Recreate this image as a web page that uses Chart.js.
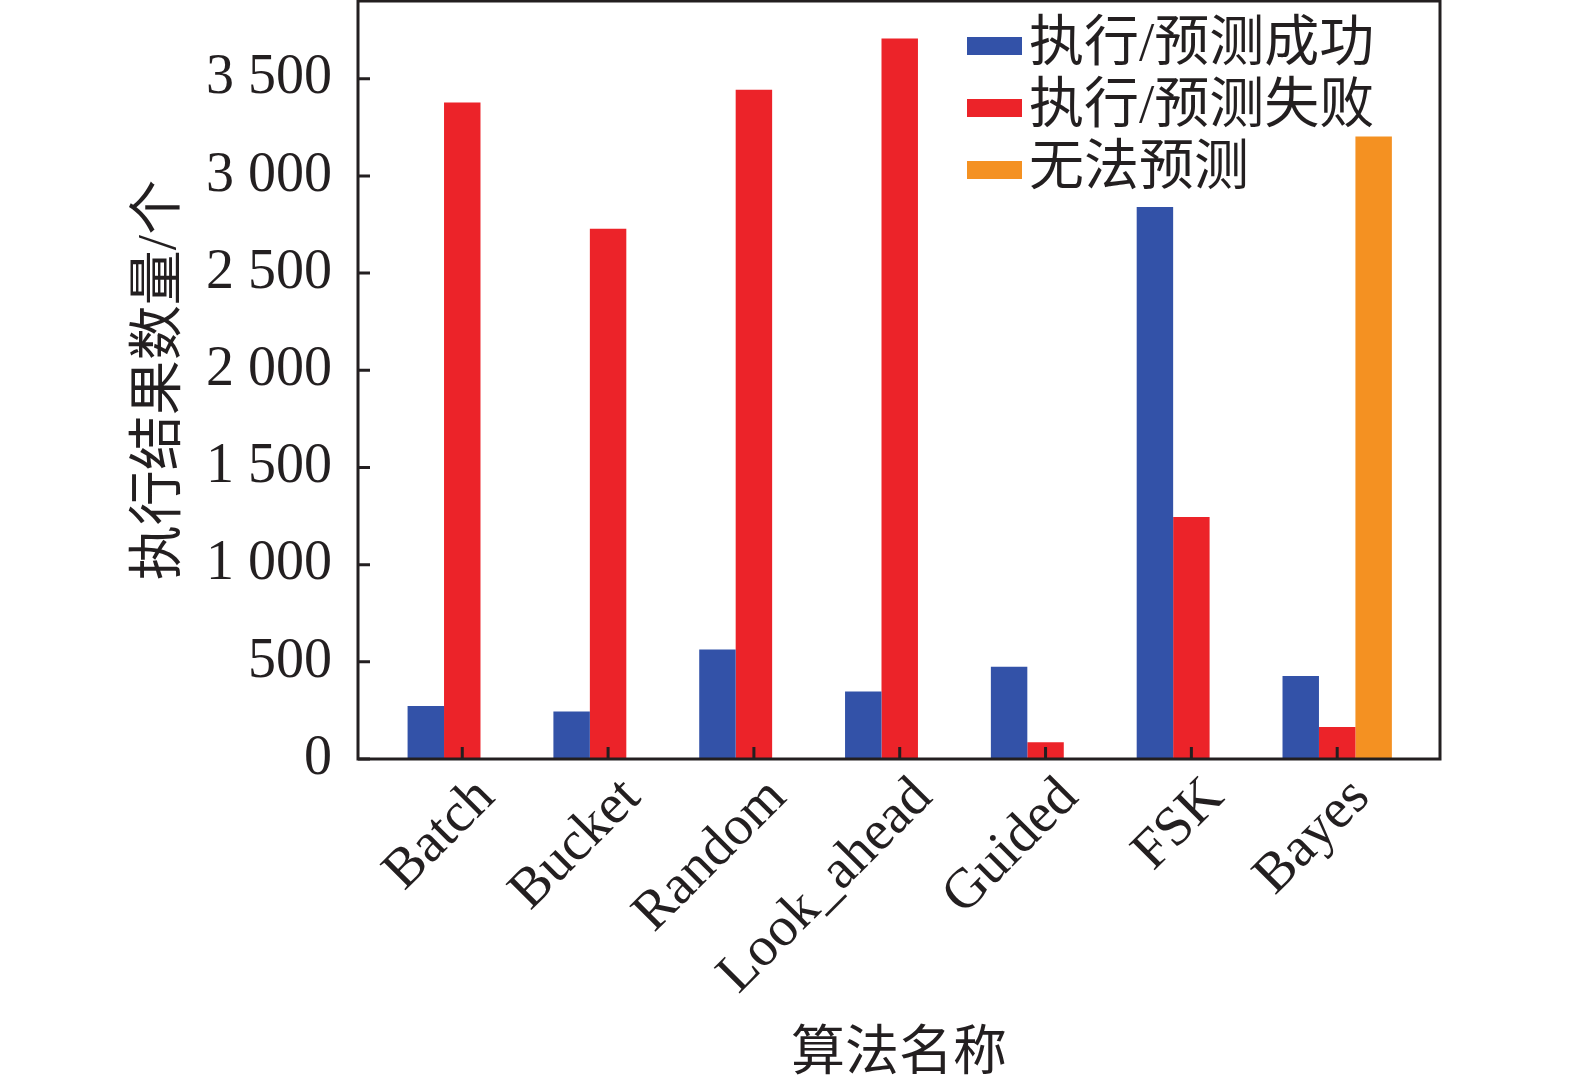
<!DOCTYPE html>
<html><head><meta charset="utf-8">
<script src="https://cdn.jsdelivr.net/npm/chart.js@4/dist/chart.umd.min.js"></script>
<style>html,body{margin:0;padding:0;background:#fff;}</style>
</head><body>
<canvas id="c" width="1575" height="1082"></canvas>
<script>
const categories = ['Batch', 'Bucket', 'Random', 'Look_ahead', 'Guided', 'FSK', 'Bayes'];
const seriesNames = ['执行/预测成功', '执行/预测失败', '无法预测'];
const successValues = [273, 245, 564, 347, 475, 2840, 427];
const failValues = [3378, 2728, 3443, 3707, 86, 1245, 165];
const unpredictableValues = [null, null, null, null, null, null, 3203];
const yTickValues = [0, 500, 1000, 1500, 2000, 2500, 3000, 3500];
const yTickLabels = ['0', '500', '1 000', '1 500', '2 000', '2 500', '3 000', '3 500'];
const xTitle = '算法名称';
const yTitle = '执行结果数量/个';

const seriesColors = ['#3352A8', '#EC2329', '#F49122'];
const ink = '#231F20';
const FONT = '"Liberation Serif", "Noto Sans CJK SC", serif';

const toPoints = arr => arr.map((v, i) => ({ x: i + 1, y: v }));

const frameAndTicks = {
  id: 'frameAndTicks',
  afterDatasetsDraw(chart) {
    const ctx = chart.ctx, a = chart.chartArea;
    const xs = chart.scales.x, ys = chart.scales.y;
    ctx.save();
    ctx.strokeStyle = ink;
    ctx.lineWidth = 3;
    ctx.beginPath();
    categories.forEach((c, i) => {
      const px = xs.getPixelForValue(i + 1);
      ctx.moveTo(px, a.bottom);
      ctx.lineTo(px, a.bottom - 12);
    });
    yTickValues.forEach(v => {
      const py = ys.getPixelForValue(v);
      ctx.moveTo(a.left, py);
      ctx.lineTo(a.left + 12, py);
    });
    ctx.stroke();
    ctx.strokeRect(a.left, a.top, a.right - a.left, a.bottom - a.top);
    ctx.restore();
  }
};

const insideLegend = {
  id: 'insideLegend',
  afterDraw(chart) {
    const ctx = chart.ctx, a = chart.chartArea;
    const x0 = a.right - 473, y0 = a.top + 45, gap = 62;
    ctx.save();
    chart.data.datasets.forEach((ds, i) => {
      const yc = y0 + i * gap;
      ctx.fillStyle = ds.backgroundColor;
      ctx.fillRect(x0, yc - 9, 55, 18);
      ctx.fillStyle = ink;
      ctx.font = '55px ' + FONT;
      ctx.textBaseline = 'middle';
      ctx.textAlign = 'left';
      ctx.fillText(ds.label, x0 + 62, yc);
    });
    ctx.restore();
  }
};

new Chart(document.getElementById('c'), {
  type: 'bar',
  data: {
    datasets: [
      { label: seriesNames[0], data: toPoints(successValues), backgroundColor: seriesColors[0] },
      { label: seriesNames[1], data: toPoints(failValues), backgroundColor: seriesColors[1] },
      { label: seriesNames[2], data: toPoints(unpredictableValues), backgroundColor: seriesColors[2] }
    ]
  },
  options: {
    responsive: false,
    animation: false,
    devicePixelRatio: 1,
    categoryPercentage: 0.75,
    barPercentage: 1.0,
    layout: { padding: { top: 1, right: 135, left: 0, bottom: 0 } },
    plugins: { legend: { display: false }, tooltip: { enabled: false } },
    scales: {
      x: {
        type: 'linear', min: 0.285, max: 7.705, offset: false,
        afterBuildTicks: s => { s.ticks = categories.map((c, i) => ({ value: i + 1 })); },
        ticks: {
          callback: v => categories[Math.round(v) - 1],
          minRotation: 45, maxRotation: 45, autoSkip: false, padding: -2, labelOffset: 24,
          color: ink, font: { family: FONT, size: 56 }
        },
        grid: { display: false },
        border: { display: false },
        title: { display: true, text: xTitle, color: ink, font: { family: FONT, size: 54 }, padding: { top: 0, bottom: -6 } },
        afterFit: s => { s.height = 323; s.paddingLeft = 0; s.paddingRight = 0; s.paddingTop = 0; s.paddingBottom = 0; }
      },
      y: {
        min: 0, max: 3900,
        afterBuildTicks: s => { s.ticks = yTickValues.map(v => ({ value: v })); },
        ticks: {
          callback: v => yTickLabels[yTickValues.indexOf(v)],
          padding: 18, color: ink, font: { family: FONT, size: 56 }
        },
        grid: { display: false },
        border: { display: false },
        title: { display: true, text: yTitle, color: ink, font: { family: FONT, size: 55 }, padding: { top: 128, bottom: 0 } },
        afterFit: s => { s.width = 358; s.paddingLeft = 0; s.paddingRight = 0; s.paddingTop = 0; s.paddingBottom = 0; }
      }
    }
  },
  plugins: [frameAndTicks, insideLegend]
});
</script>
</body></html>
